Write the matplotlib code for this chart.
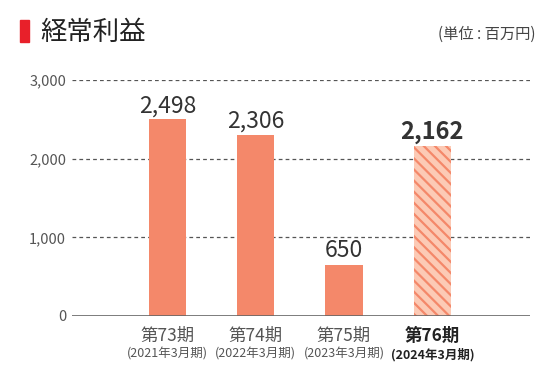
import matplotlib
matplotlib.use('Agg')
import matplotlib.pyplot as plt
from matplotlib.patches import Rectangle

plt.rcParams['font.family'] = ['Noto Sans CJK JP', 'DejaVu Sans']
plt.rcParams['hatch.linewidth'] = 1.6

periods = ['第73期', '第74期', '第75期', '第76期']
years = ['(2021年3月期)', '(2022年3月期)', '(2023年3月期)', '(2024年3月期)']
values = [2498, 2306, 650, 2162]
yticks = [0, 1000, 2000, 3000]

BAR = '#F4886A'
HATCH_BG = '#FCCAB5'
TEXT = '#333333'

fig = plt.figure(figsize=(5.52, 3.82), dpi=100)
ax = fig.add_axes([0.130, 0.1728, 0.830, 0.6178])

xs = list(range(len(values)))
for x, v in zip(xs, values):
    if x == len(values) - 1:
        ax.bar(x, v, width=0.42, color=HATCH_BG, edgecolor=BAR, hatch='\\\\\\', linewidth=0, zorder=3)
        ax.text(x, v + 30, f'{v:,}', ha='center', va='bottom', fontsize=17, fontweight='bold', color=TEXT)
    else:
        ax.bar(x, v, width=0.42, color=BAR, linewidth=0, zorder=3)
        ax.text(x, v + 30, f'{v:,}', ha='center', va='bottom', fontsize=16.5, color=TEXT)

ax.set_xlim(-1.081, 4.104)
ax.set_ylim(0, 3000)
ax.set_yticks(yticks)
ax.set_yticklabels([f'{t:,}' for t in yticks], fontsize=10.5, color='#555555')
for t in yticks[1:]:
    ax.axhline(t, color='#555555', linestyle=(0, (3, 2.5)), linewidth=0.9, zorder=1)
ax.axhline(0, color='#666666', linewidth=1.2, zorder=4)

ax.set_xticks(xs)
ax.set_xticklabels([])
for x, p, yl in zip(xs, periods, years):
    bold = 'bold' if x == len(values) - 1 else 'normal'
    col = '#222222' if bold == 'bold' else '#555555'
    ax.text(x, -0.045, p, transform=ax.get_xaxis_transform(), ha='center', va='top',
            fontsize=12.5, fontweight=bold, color=col)
    ax.text(x, -0.135, yl, transform=ax.get_xaxis_transform(), ha='center', va='top',
            fontsize=9, fontweight=bold, color=col)

ax.tick_params(axis='both', length=0, pad=4)
for s in ax.spines.values():
    s.set_visible(False)

# title
fig.patches.append(Rectangle((20 / 552, 1 - 42 / 382), 9 / 552, 22 / 382,
                             transform=fig.transFigure, color='#E8202A'))
fig.text(40 / 552, 1 - 32 / 382, '経常利益', fontsize=19, color='#222222', va='center', ha='left')
fig.text(536 / 552, 1 - 34 / 382, '(単位 : 百万円)', fontsize=11, color='#444444', va='center', ha='right')

fig.savefig('out.png', dpi=100)
